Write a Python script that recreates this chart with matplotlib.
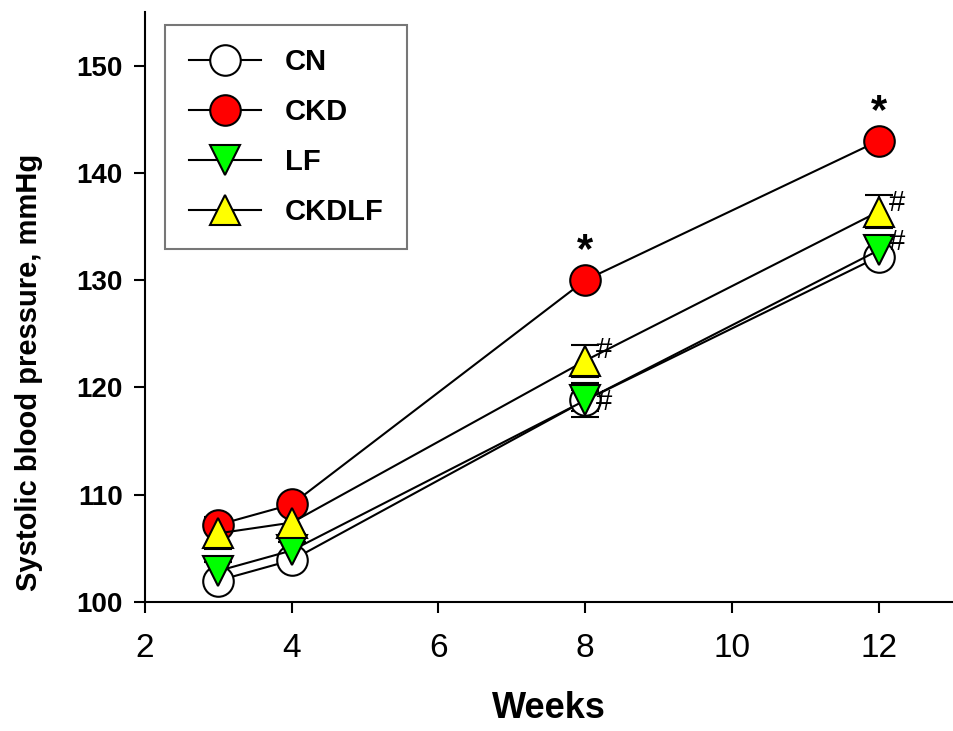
import matplotlib.pyplot as plt

plt.rcParams['font.family'] = ['Liberation Sans', 'DejaVu Sans']

# Data
weeks = [3, 4, 8, 12]
cn = [102.0, 103.9, 118.8, 132.2]
cn_err = [0.5, 0.5, 1.0, 0.5]
ckd = [107.2, 109.1, 130.0, 143.0]
ckd_err = [0.5, 0.5, 0.4, 0.3]
lf = [102.9, 104.8, 118.8, 132.8]
lf_err = [0.8, 0.8, 1.6, 1.0]
ckdlf = [106.4, 107.4, 122.5, 136.4]
ckdlf_err = [1.5, 1.1, 1.5, 1.5]

star_weeks = [8, 12]
star_vals = [130.0, 143.0]
hash_weeks = [8, 8, 12, 12]
hash_vals = [123.3, 118.4, 137.0, 133.4]

fig = plt.figure(figsize=(9.54, 7.31), dpi=100)
ax = fig.add_axes([0.152, 0.1765, 0.846, 0.807])

series = [
    ('CN', cn, cn_err, 'o', 'white'),
    ('CKD', ckd, ckd_err, 'o', '#ff0000'),
    ('LF', lf, lf_err, 'v', '#00ff00'),
    ('CKDLF', ckdlf, ckdlf_err, '^', '#ffff00'),
]
handles = []
for name, vals, err, mk, col in series:
    h = ax.errorbar(weeks, vals, yerr=err, color='black', lw=1.5,
                    marker=mk, markersize=22, markerfacecolor=col,
                    markeredgecolor='black', markeredgewidth=1.5,
                    ecolor='black', elinewidth=1.5, capsize=10, capthick=1.5,
                    label=name)
    handles.append(h[0])

# significance marks
for x, y in zip(star_weeks, star_vals):
    ax.text(x, y + 2.7, '*', ha='center', va='center', fontsize=30,
            fontweight='bold')
for x, y in zip(hash_weeks, hash_vals):
    ax.text(x + 0.14, y + 0.2, '#', ha='left', va='center', fontsize=21)

# Plot Configuration
ax.set_xlim(2, 13)
ax.set_ylim(100, 155)
ax.set_xticks([2, 4, 6, 8, 10, 12])
ax.set_yticks([100, 110, 120, 130, 140, 150])
ax.spines['top'].set_visible(False)
ax.spines['right'].set_visible(False)
ax.spines['left'].set_linewidth(1.5)
ax.spines['bottom'].set_linewidth(1.5)
ax.tick_params(direction='out', length=8, width=1.5)
ax.tick_params(axis='x', labelsize=24, pad=14)
ax.tick_params(axis='y', labelsize=20, pad=8)
for lab in ax.get_yticklabels():
    lab.set_fontweight('bold')

ax.set_xlabel('Weeks', fontsize=26, fontweight='bold', labelpad=20)
ax.set_ylabel('Systolic blood pressure, mmHg', fontsize=21,
              fontweight='bold')
ax.yaxis.set_label_coords(-0.126, 0.39)

leg = ax.legend(handles, [s[0] for s in series], loc='upper left',
                bbox_to_anchor=(0.025, 0.978),
                fancybox=False, frameon=True,
                prop={'weight': 'bold', 'size': 21}, handlelength=2.5,
                labelspacing=0.75, borderpad=0.8, handletextpad=0.8,
                borderaxespad=0)
leg.get_frame().set_edgecolor('#555555')
leg.get_frame().set_linewidth(1.5)

plt.savefig('out.png', dpi=100)
